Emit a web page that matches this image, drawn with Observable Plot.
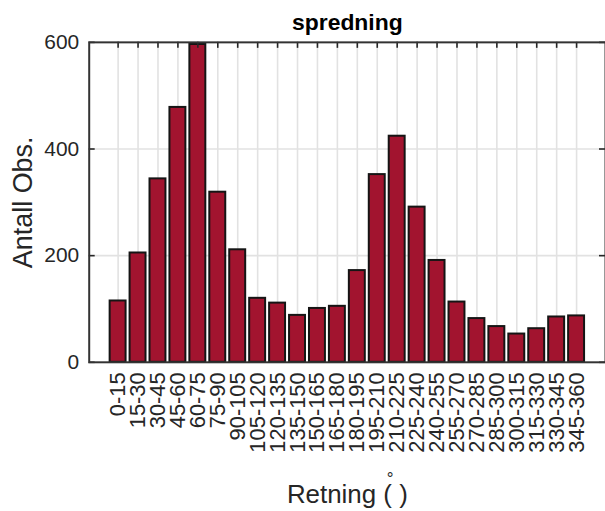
<!DOCTYPE html>
<html>
<head>
<meta charset="utf-8">
<script src="https://cdn.jsdelivr.net/npm/d3@7"></script>
<script src="https://cdn.jsdelivr.net/npm/@observablehq/plot@0.6"></script>
<style>
  html, body { margin: 0; padding: 0; background: white; overflow: hidden; }
</style>
</head>
<body>
<div id="chart"></div>
<script>
const categories = ["0-15","15-30","30-45","45-60","60-75","75-90","90-105","105-120","120-135","135-150","150-165","165-180","180-195","195-210","210-225","225-240","240-255","255-270","270-285","285-300","300-315","315-330","330-345","345-360"];
const counts = [115, 205, 344, 478, 596, 319, 211, 120, 111, 88, 101, 105, 172, 352, 424, 291, 191, 113, 82, 67, 53, 63, 85, 87];
const yTicks = [0, 200, 400, 600];
const gridY = [200, 400];
const title = "spredning";
const xLabel = "Retning ( )";
const yLabel = "Antall Obs.";

const data = categories.map((c, i) => ({cat: c, n: counts[i]}));

const W = 607, H = 511, ML = 89, MT = 42, MB = 148, MR = 0;
const innerW = W - ML - MR, innerH = H - MT - MB;

const chart = Plot.plot({
  width: W,
  height: H,
  marginLeft: ML,
  marginTop: MT,
  marginBottom: MB,
  marginRight: MR,
  style: {fontFamily: "'Liberation Sans', Arial, Helvetica, sans-serif", background: "white", color: "#262626", overflow: "visible"},
  x: {domain: categories, paddingInner: 0.2, paddingOuter: 0.6, label: null},
  y: {domain: [0, 600], label: null},
  marks: [
    Plot.ruleX(categories, {x: d => d, stroke: "#e2e2e2", strokeWidth: 1.6}),
    Plot.ruleY(gridY, {y: d => d, stroke: "#e2e2e2", strokeWidth: 1.6}),
    Plot.barY(data, {x: "cat", y: "n", fill: "#A2142F", stroke: "#151515", strokeWidth: 2}),
    Plot.ruleY(yTicks, {y: d => d, insetRight: innerW - 6, stroke: "#262626", strokeWidth: 1.6}),
    Plot.ruleY(yTicks, {y: d => d, insetLeft: innerW - 6, stroke: "#262626", strokeWidth: 1.6}),
    Plot.ruleX(categories, {x: d => d, insetBottom: innerH - 6, stroke: "#262626", strokeWidth: 1.6}),
    Plot.frame({stroke: "#333", strokeWidth: 2}),
    Plot.axisY({ticks: yTicks, tickSize: 0, tickPadding: 10, fontSize: 21, color: "#262626", label: null}),
    Plot.axisX({tickSize: 0, tickRotate: -90, tickPadding: 10, fontSize: 22, color: "#262626", label: null}),
    Plot.text([title], {frameAnchor: "top", lineAnchor: "middle", textAnchor: "middle", dy: -19.5, fontWeight: "bold", fontSize: 23, fill: "#000"}),
    Plot.text([yLabel], {frameAnchor: "left", lineAnchor: "middle", textAnchor: "middle", dx: -66, rotate: -90, fontSize: 27, fill: "#262626"}),
    Plot.text([xLabel], {frameAnchor: "bottom", lineAnchor: "middle", textAnchor: "middle", dy: 133, fontSize: 26, fill: "#262626"}),
    Plot.text(["°"], {frameAnchor: "bottom", lineAnchor: "middle", textAnchor: "middle", dx: 43, dy: 117, fontSize: 17, fill: "#262626"})
  ]
});
document.getElementById("chart").appendChild(chart);
</script>
</body>
</html>
